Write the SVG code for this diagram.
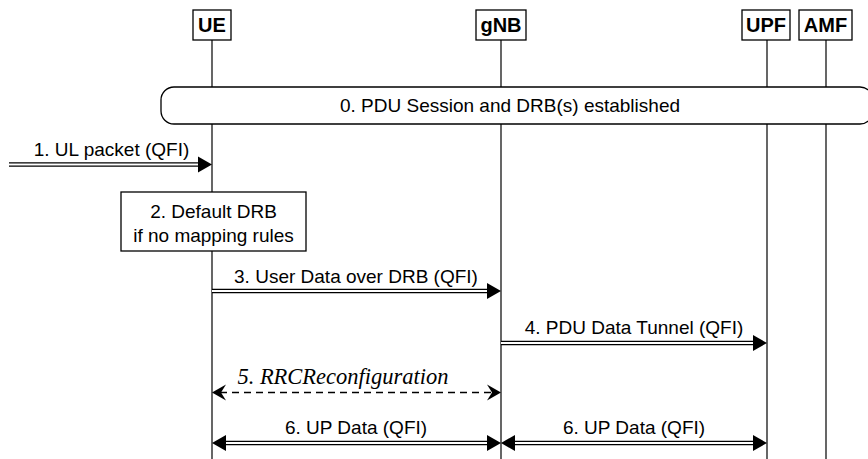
<svg xmlns="http://www.w3.org/2000/svg" width="868" height="459" viewBox="0 0 868 459">
<defs>
<style>
.ent rect{fill:#fff;stroke:#000;stroke-width:1.3}
.ent text{font-family:"Liberation Sans",Arial,sans-serif;font-weight:bold;font-size:20px;text-anchor:middle;fill:#000}
.life{stroke:#000;stroke-width:1.2;fill:none}
.lbl{font-family:"Liberation Sans",Arial,sans-serif;font-size:19px;text-anchor:middle;fill:#000}
.ital{font-family:"Liberation Serif","Times New Roman",serif;font-style:italic;font-size:22.5px;text-anchor:middle;fill:#000}
.dblo{stroke:#000;stroke-width:4.4;fill:none}
.dbli{stroke:#fff;stroke-width:1.8;fill:none}
.dash{stroke:#000;stroke-width:1.3;stroke-dasharray:7,5;fill:none}
.box{fill:#fff;stroke:#000;stroke-width:1.3}
</style>
<marker id="ah" markerUnits="userSpaceOnUse" markerWidth="16" markerHeight="18" viewBox="0 0 16 18" refX="15" refY="9" orient="auto-start-reverse">
<path d="M1,1 L15,9 L1,17 Z" fill="#000"/>
</marker>
<marker id="dart" markerUnits="userSpaceOnUse" markerWidth="16" markerHeight="18" viewBox="0 0 16 18" refX="15" refY="9" orient="auto-start-reverse">
<path d="M1,1 L15,9 L1,17 L6,9 Z" fill="#000"/>
</marker>
</defs>

<g id="lifelines">
<line class="life" x1="212" y1="40" x2="212" y2="459"/>
<line class="life" x1="501" y1="40" x2="501" y2="459"/>
<line class="life" x1="767" y1="40" x2="767" y2="459"/>
<line class="life" x1="826" y1="40" x2="826" y2="459"/>
</g>

<g id="UE" class="ent"><rect x="193" y="10" width="38" height="30"/><text x="212" y="32">UE</text></g>
<g id="gNB" class="ent"><rect x="476" y="10" width="50" height="30"/><text x="501" y="32">gNB</text></g>
<g id="UPF" class="ent"><rect x="742" y="10" width="48" height="30"/><text x="766" y="32">UPF</text></g>
<g id="AMF" class="ent"><rect x="799" y="10" width="53" height="30"/><text x="825.5" y="32">AMF</text></g>

<g id="step0">
<rect class="box" x="161" y="87" width="712" height="37" rx="13" ry="13"/>
<text class="lbl" x="510" y="112">0. PDU Session and DRB(s) established</text>
</g>

<g id="step2">
<rect class="box" x="121" y="192" width="185" height="59"/>
<text class="lbl" x="213.5" y="218">2. Default DRB</text>
<text class="lbl" x="213.5" y="242">if no mapping rules</text>
</g>

<g id="connectors">
<g id="msg1">
<line class="dblo" x1="9" y1="164.5" x2="200" y2="164.5"/>
<line class="dbli" x1="9" y1="164.5" x2="202" y2="164.5"/>
<line x1="190" y1="164.5" x2="212" y2="164.5" stroke="none" marker-end="url(#ah)"/>
<text class="lbl" x="111.5" y="156">1. UL packet (QFI)</text>
</g>
<g id="msg3">
<line class="dblo" x1="212" y1="291" x2="489" y2="291"/>
<line class="dbli" x1="212" y1="291" x2="491" y2="291"/>
<line x1="480" y1="291" x2="501" y2="291" stroke="none" marker-end="url(#ah)"/>
<text class="lbl" x="356" y="283">3. User Data over DRB (QFI)</text>
</g>
<g id="msg4">
<line class="dblo" x1="501" y1="343" x2="755" y2="343"/>
<line class="dbli" x1="501" y1="343" x2="757" y2="343"/>
<line x1="745" y1="343" x2="767" y2="343" stroke="none" marker-end="url(#ah)"/>
<text class="lbl" x="634" y="334">4. PDU Data Tunnel (QFI)</text>
</g>
<g id="msg5">
<line class="dash" x1="220" y1="392.5" x2="493" y2="392.5"/>
<line x1="212" y1="392.5" x2="501" y2="392.5" stroke="none" marker-start="url(#dart)" marker-end="url(#dart)"/>
<text class="ital" x="343" y="384">5. RRCReconfiguration</text>
</g>
<g id="msg6a">
<line class="dblo" x1="224" y1="443" x2="489" y2="443"/>
<line class="dbli" x1="222" y1="443" x2="491" y2="443"/>
<line x1="212" y1="443" x2="501" y2="443" stroke="none" marker-start="url(#ah)" marker-end="url(#ah)"/>
<text class="lbl" x="356" y="434">6. UP Data (QFI)</text>
</g>
<g id="msg6b">
<line class="dblo" x1="513" y1="443" x2="755" y2="443"/>
<line class="dbli" x1="511" y1="443" x2="757" y2="443"/>
<line x1="501" y1="443" x2="767" y2="443" stroke="none" marker-start="url(#ah)" marker-end="url(#ah)"/>
<text class="lbl" x="634" y="434">6. UP Data (QFI)</text>
</g>
</g>
</svg>
